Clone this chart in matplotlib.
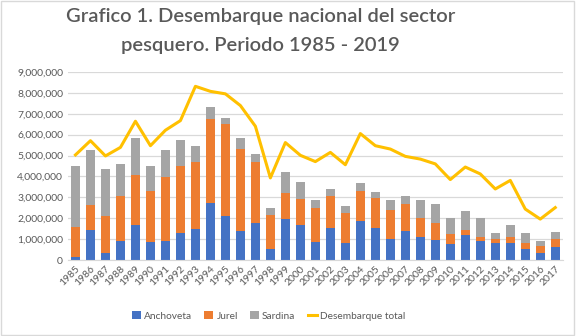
import numpy as np
import matplotlib
matplotlib.use('Agg')
from matplotlib import pyplot as plt
from matplotlib.ticker import FuncFormatter

years = [str(y) for y in range(1985, 2018)]

# toneladas
anchoveta = [0.13, 1.45, 0.34, 0.90, 1.68, 0.85, 0.93, 1.28, 1.47, 2.73, 2.09,
             1.40, 1.77, 0.53, 1.98, 1.69, 0.85, 1.53, 0.81, 1.85, 1.53, 0.99,
             1.40, 1.12, 0.94, 0.77, 1.18, 0.89, 0.80, 0.80, 0.53, 0.34, 0.61]
jurel = [1.47, 1.20, 1.76, 2.15, 2.39, 2.47, 3.04, 3.22, 3.24, 4.04, 4.42,
         3.91, 2.91, 1.62, 1.23, 1.25, 1.66, 1.52, 1.44, 1.47, 1.45, 1.39,
         1.30, 0.89, 0.83, 0.47, 0.27, 0.23, 0.22, 0.29, 0.30, 0.31, 0.38]
sardina = [2.92, 2.60, 2.24, 1.55, 1.75, 1.20, 1.28, 1.26, 0.73, 0.54, 0.29,
           0.51, 0.38, 0.32, 1.02, 0.78, 0.36, 0.36, 0.33, 0.37, 0.29, 0.49,
           0.35, 0.85, 0.93, 0.77, 0.90, 0.89, 0.27, 0.59, 0.45, 0.28, 0.35]
total = [5.03, 5.71, 4.98, 5.39, 6.64, 5.47, 6.21, 6.67, 8.31, 8.07, 7.95,
         7.39, 6.40, 3.93, 5.62, 5.01, 4.71, 5.15, 4.56, 6.05, 5.47, 5.31,
         4.96, 4.83, 4.60, 3.85, 4.45, 4.12, 3.40, 3.81, 2.44, 1.96, 2.51]

anchoveta = np.array(anchoveta) * 1e6
jurel = np.array(jurel) * 1e6
sardina = np.array(sardina) * 1e6
total = np.array(total) * 1e6

plt.rcParams['font.family'] = ['Lato', 'DejaVu Sans']

fig = plt.figure(figsize=(5.76, 3.36), dpi=100)
ax = fig.add_axes([0.118, 0.226, 0.859, 0.560])

x = np.arange(len(years))
w = 0.63
b1 = ax.bar(x, anchoveta, w, color='#4472C4', label='Anchoveta', zorder=2)
b2 = ax.bar(x, jurel, w, bottom=anchoveta, color='#ED7D31', label='Jurel', zorder=2)
b3 = ax.bar(x, sardina, w, bottom=anchoveta + jurel, color='#A5A5A5', label='Sardina', zorder=2)
l1, = ax.plot(x, total, color='#FFC000', lw=2.2, label='Desembarque total', zorder=3)

ax.set_xlim(-0.5, len(years) - 0.5)
ax.set_ylim(0, 9e6)
ax.set_yticks(np.arange(0, 9e6 + 1, 1e6))
ax.yaxis.set_major_formatter(FuncFormatter(lambda v, p: f'{int(v):,}'))
ax.grid(axis='y', color='#D9D9D9', lw=0.9, zorder=0)
ax.set_xticks(x)
ax.set_xticklabels(years, rotation=45, ha='right', rotation_mode='anchor')
ax.tick_params(axis='both', length=0, labelsize=7.5, colors='#595959')
ax.tick_params(axis='x', pad=3)
for s in ax.spines.values():
    s.set_visible(False)
ax.spines['bottom'].set_visible(True)
ax.spines['bottom'].set_color('#D9D9D9')

fig.legend([b1, b2, b3, l1], ['Anchoveta', 'Jurel', 'Sardina', 'Desembarque total'],
           loc='center', bbox_to_anchor=(0.466, 0.06), ncol=4, frameon=False,
           fontsize=7.3, labelcolor='#595959', handlelength=0.9, handleheight=0.9,
           columnspacing=1.2, handletextpad=0.3)

fig.text(0.452, 0.950, 'Grafico 1. Desembarque nacional del sector',
         ha='center', va='center', fontsize=14.5, color='#595959', fontweight='semibold')
fig.text(0.452, 0.864, 'pesquero. Periodo 1985 - 2019',
         ha='center', va='center', fontsize=14.5, color='#595959', fontweight='semibold')

fig.patches.append(plt.Rectangle((0.002, 0.003), 0.994, 0.994, transform=fig.transFigure,
                                 fill=False, edgecolor='#D9D9D9', lw=1))

fig.savefig('out.png', dpi=100)
